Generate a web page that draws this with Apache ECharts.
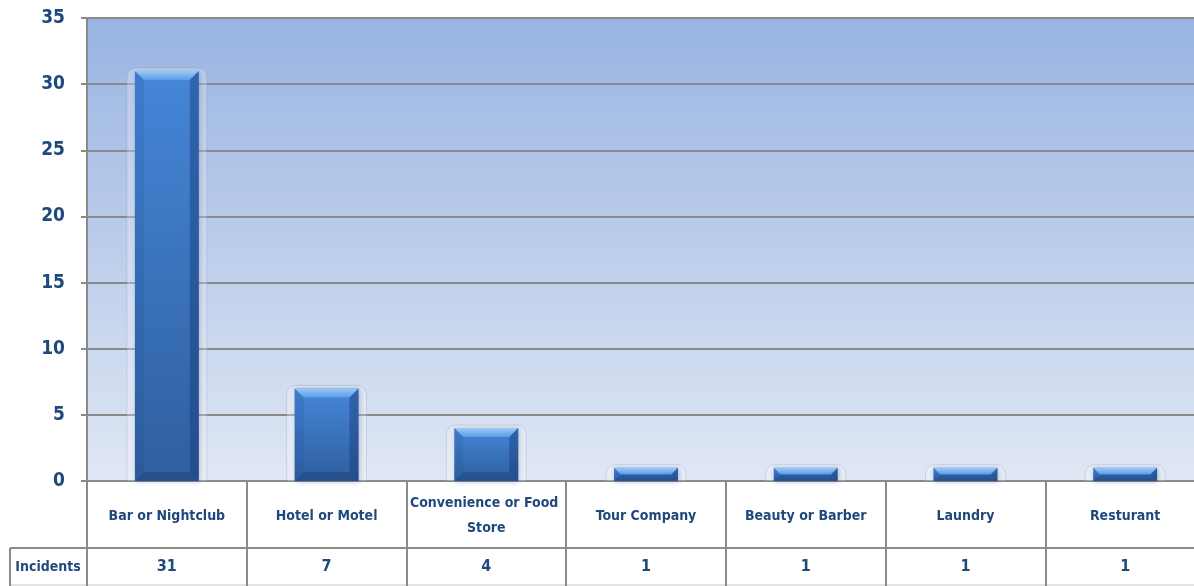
<!DOCTYPE html>
<html>
<head>
<meta charset="utf-8">
<style>
  html, body { margin: 0; padding: 0; background: #fff; }
  #chart { width: 1194px; height: 586px; }
</style>
<script src="https://cdn.jsdelivr.net/npm/echarts@6/dist/echarts.min.js"></script>
</head>
<body>
<div id="chart"></div>
<script>
// Incident counts by type of business
const categories = ['Bar or Nightclub', 'Hotel or Motel', 'Convenience or Food Store', 'Tour Company', 'Beauty or Barber', 'Laundry', 'Resturant'];
const incidents = [31, 7, 4, 1, 1, 1, 1];
const seriesName = 'Incidents';
const yTicks = { min: 0, max: 35, interval: 5 };

const FONT = '"Liberation Sans Narrow", "DejaVu Sans Condensed", "Arial Narrow", sans-serif';
const TEXT = '#1f497d';
const LINE = '#8a8a8a';

const chart = echarts.init(document.getElementById('chart'), null, { renderer: 'canvas' });

// Bevelled bar drawn from the data value through the axes
function renderBar(params, api) {
  const idx = api.value(0);
  const v = api.value(1);
  const pBase = api.coord([idx, 0]);
  const pTop = api.coord([idx, v]);
  const bw = api.size([1, 0])[0] * 0.4;
  const x0 = pBase[0] - bw / 2, x1 = pBase[0] + bw / 2;
  const yb = pBase[1], yt = pTop[1];
  const h = yb - yt;
  const d = Math.min(9, h / 2);
  const grad = (c) => ({ type: 'linear', x: 0, y: 0, x2: 0, y2: 1, colorStops: c });
  return {
    type: 'group',
    children: [
      { // soft halo
        type: 'rect',
        shape: { x: x0 - 8, y: yt - 3, width: bw + 16, height: h + 3, r: [9, 9, 0, 0] },
        style: { fill: 'rgba(255,255,255,0.25)', stroke: 'rgba(120,130,150,0.22)', lineWidth: 1 }
      },
      { // face
        type: 'rect',
        shape: { x: x0, y: yt, width: bw, height: h },
        style: {
          fill: grad([{ offset: 0, color: '#4586d8' }, { offset: 1, color: '#2f5f9e' }]),
          shadowBlur: 5, shadowColor: 'rgba(30,50,90,0.3)', shadowOffsetX: 1, shadowOffsetY: 1
        }
      },
      { // top bevel
        type: 'polygon',
        shape: { points: [[x0, yt], [x1, yt], [x1 - d, yt + d], [x0 + d, yt + d]] },
        style: { fill: grad([{ offset: 0, color: '#9ccaf7' }, { offset: 1, color: '#5b9be6' }]) }
      },
      { // left bevel
        type: 'polygon',
        shape: { points: [[x0, yt], [x0 + d, yt + d], [x0 + d, yb - d], [x0, yb]] },
        style: { fill: 'rgba(30,70,140,0.15)' }
      },
      { // right bevel
        type: 'polygon',
        shape: { points: [[x1, yt], [x1, yb], [x1 - d, yb - d], [x1 - d, yt + d]] },
        style: { fill: 'rgba(20,50,110,0.4)' }
      },
      { // bottom bevel
        type: 'polygon',
        shape: { points: [[x0, yb], [x0 + d, yb - d], [x1 - d, yb - d], [x1, yb]] },
        style: { fill: 'rgba(20,45,100,0.3)' }
      }
    ]
  };
}

const option = {
  animation: false,
  grid: [
    {
      left: 87, width: 1118, top: 18, bottom: 105,
      outerBoundsMode: 'none', containLabel: false,
      show: true, borderWidth: 0,
      backgroundColor: {
        type: 'linear', x: 0, y: 0, x2: 0, y2: 1,
        colorStops: [{ offset: 0, color: '#99b4e2' }, { offset: 1, color: '#e0e7f4' }]
      }
    },
    { left: 87, width: 1118, top: 481, bottom: 0, outerBoundsMode: 'none', containLabel: false }
  ],
  xAxis: [
    {
      type: 'category', gridIndex: 0, data: categories,
      axisLine: { show: true, lineStyle: { color: LINE, width: 2 } },
      axisTick: { show: false },
      axisLabel: {
        interval: 0, margin: 35, verticalAlign: 'middle', align: 'center',
        width: 158, overflow: 'break', lineHeight: 25,
        color: TEXT, fontFamily: FONT, fontWeight: 'bold', fontSize: 14
      }
    },
    {
      type: 'category', gridIndex: 1, position: 'bottom', data: incidents.map(String),
      axisLine: { show: false }, axisTick: { show: false },
      splitLine: { show: true, interval: 0, lineStyle: { color: LINE, width: 2 } },
      axisLabel: {
        inside: true, interval: 0, margin: 19, verticalAlign: 'middle',
        color: TEXT, fontFamily: FONT, fontWeight: 'bold', fontSize: 16
      }
    }
  ],
  yAxis: [
    {
      type: 'value', gridIndex: 0, min: yTicks.min, max: yTicks.max, interval: yTicks.interval,
      axisLine: { show: true, lineStyle: { color: LINE, width: 2 } },
      axisTick: { show: true, length: 6, lineStyle: { color: LINE, width: 2 } },
      splitLine: { show: true, lineStyle: { color: LINE, width: 2 } },
      axisLabel: { margin: 22, color: TEXT, fontFamily: FONT, fontWeight: 'bold', fontSize: 19 }
    },
    { type: 'value', gridIndex: 1, show: false, splitLine: { show: false } }
  ],
  series: [
    {
      name: seriesName, type: 'custom', xAxisIndex: 0, yAxisIndex: 0,
      renderItem: renderBar,
      data: incidents.map((v, i) => [i, v]),
      z: 3
    }
  ],
  graphic: [
    { type: 'line', shape: { x1: 10, y1: 548, x2: 1194, y2: 548 }, style: { stroke: LINE, lineWidth: 2 } },
    { type: 'line', shape: { x1: 10, y1: 585, x2: 1194, y2: 585 }, style: { stroke: '#c8c8c8', lineWidth: 1 } },
    { type: 'line', shape: { x1: 10, y1: 548, x2: 10, y2: 586 }, style: { stroke: LINE, lineWidth: 2 } },
    { type: 'line', shape: { x1: 87, y1: 481, x2: 87, y2: 586 }, style: { stroke: LINE, lineWidth: 2 } },
    {
      type: 'text', x: 48, y: 567,
      style: {
        text: seriesName, align: 'center', verticalAlign: 'middle',
        fill: TEXT, font: 'bold 14px ' + FONT
      }
    }
  ]
};

chart.setOption(option);
</script>
</body>
</html>
